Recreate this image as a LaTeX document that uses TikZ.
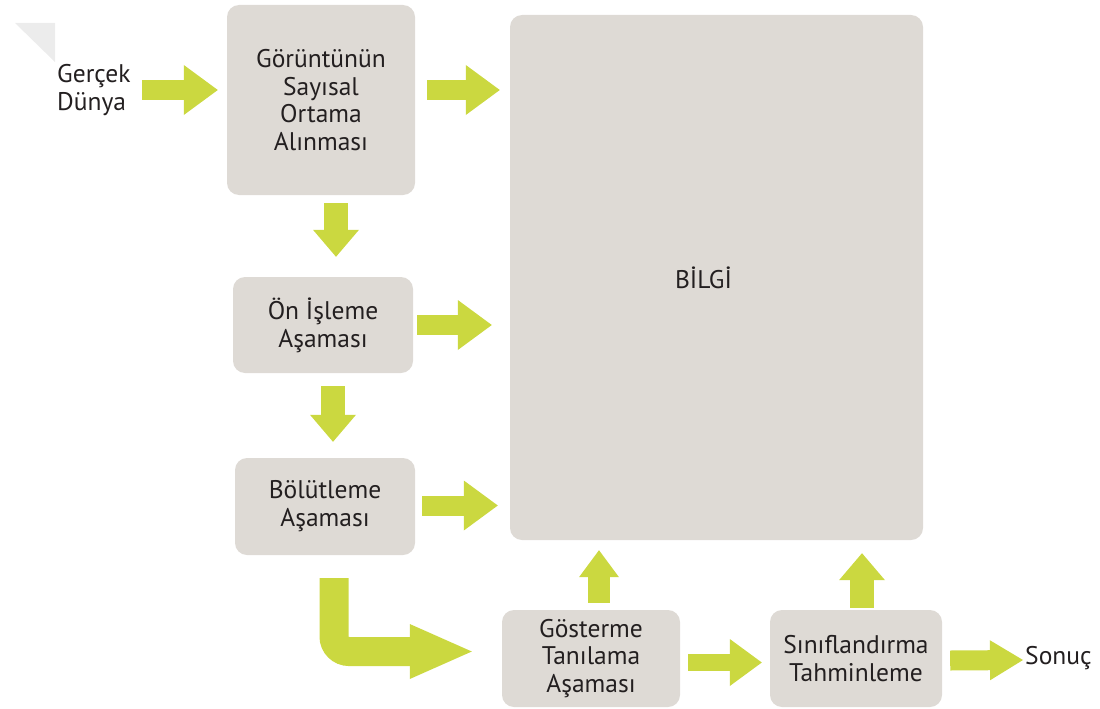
\documentclass[tikz,border=0pt]{standalone}
\usepackage{fontspec}
\setmainfont{PT Sans}
\usetikzlibrary{arrows.meta,calc}
\definecolor{boxgrey}{RGB}{222,218,213}
\definecolor{leaf}{RGB}{203,216,64}
\definecolor{ink}{RGB}{35,31,32}
\definecolor{cornergrey}{RGB}{236,236,236}

\begin{document}
\begin{tikzpicture}[x=1pt,y=-1pt,
  stage/.style={fill=boxgrey, rounded corners=12pt, inner sep=0pt, align=center,
    text=ink, font=\fontsize{25.5}{27.8}\selectfont},
  plain/.style={inner sep=0pt, align=left, text=ink, font=\fontsize{25.5}{27.8}\selectfont},
  garrow/.style={color=leaf, line width=20pt,
    -{Triangle[length=34pt,width=50pt,line width=0pt]}},
  varrow/.style={color=leaf, line width=24pt,
    -{Triangle[length=27pt,width=46pt,line width=0pt]}},
  bentarrow/.style={color=leaf, line width=29pt, rounded corners=15pt,
    -{Triangle[length=62pt,width=55pt,line width=0pt]}},
]
\useasboundingbox (0,0) rectangle (1100,709);

% page corner fold
\fill[cornergrey] (15,23) -- (55,23) -- (55,62) -- cycle;

% stages
\node[stage, minimum width=413pt, minimum height=525pt] (bilgi) at (716.5,277.5) {\hspace*{-26pt}BİLGİ};
\node[stage, minimum width=188pt, minimum height=190pt] (b1) at (321,100) {Görüntünün\\Sayısal\\Ortama\\Alınması};
\node[stage, minimum width=180pt, minimum height=96pt] (b2) at (323,325) {Ön İşleme\\Aşaması};
\node[stage, minimum width=180pt, minimum height=97pt] (b3) at (325,506.5) {Bölütleme\\Aşaması};
\node[stage, minimum width=178pt, minimum height=97pt] (b4) at (591,658.5) {Gösterme\\Tanılama\\Aşaması};
\node[stage, minimum width=172pt, minimum height=97pt] (b5) at (856,658.5) {Sınıflandırma\\Tahminleme};

% free texts
\node[plain, anchor=west] (gercek) at (57,90) {Gerçek\\Dünya};
\node[plain, anchor=west] (sonuc) at (1025,658) {Sonuç};

% flow
\draw[garrow] ($(b1.west |- gercek.east)+(-85,0)$) -- ($(b1.west |- gercek.east)+(-9,0)$);
\draw[garrow] ($(b1.east)+(12,-10)$) -- ($(bilgi.west |- b1.east)+(-10,-10)$);
\draw[varrow] ($(b1.south)+(15,8)$) -- ($(b2.north)+(13,-20)$);
\draw[garrow] ($(b2.east)+(4,0)$) -- ($(bilgi.west |- b2.east)+(-18,0)$);
\draw[varrow] ($(b2.south)+(10,13)$) -- ($(b3.north)+(8,-16)$);
\draw[garrow] ($(b3.east)+(7,-1)$) -- ($(bilgi.west |- b3.east)+(-12,-1)$);
\draw[bentarrow] ($(b3.south)+(9,23)$) |- ($(b4.west)+(-30,-7)$);
\draw[varrow, line width=22pt, -{Triangle[length=27pt,width=40pt,line width=0pt]}]
  ($(b4.north)+(8,-7)$) -- ($(b4.north |- bilgi.south)+(8,10)$);
\draw[garrow, line width=17pt, -{Triangle[length=32pt,width=47pt,line width=0pt]}]
  ($(b4.east)+(8,4)$) -- ($(b5.west)+(-8,4)$);
\draw[varrow] ($(b5.north)+(6,-2)$) -- ($(b5.north |- bilgi.south)+(6,13)$);
\draw[garrow, -{Triangle[length=33pt,width=40pt,line width=0pt]}]
  ($(b5.east)+(8,2)$) -- ($(sonuc.west)+(-2,2)$);
\end{tikzpicture}
\end{document}
